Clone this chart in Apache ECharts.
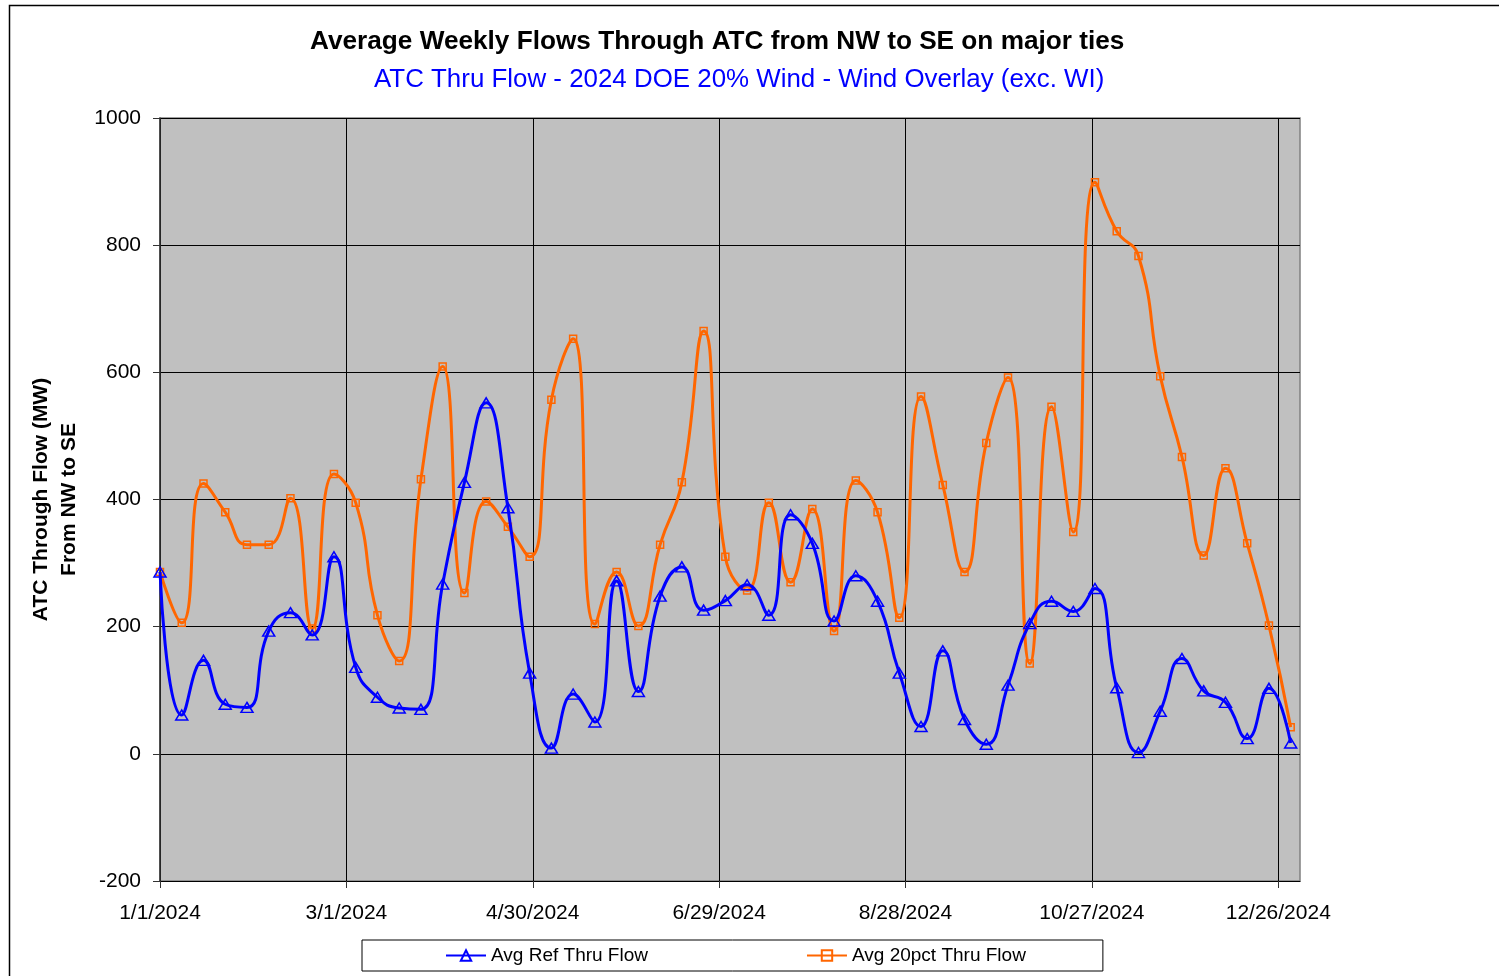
<!DOCTYPE html>
<html style="height: 100%; width: 100%; overflow: hidden">
<head>
    <meta charset="UTF-8">
    <title>Average Weekly Flows Through ATC</title>
    <script type="text/javascript" src="https://cdn.jsdelivr.net/npm/echarts@6/dist/echarts.min.js"></script>
</head>
<body style="height: 100%; width: 100%; margin: 0; background: #fff">
<div id="container" style="height: 976px; width: 1499px"></div>
<script type="text/javascript">

    // weekly points, starting 1/1/2024
    var startYear = 2024, startMonth = 0, startDay = 1;
    var weekStep = 7;

    var seriesNames = ['Avg Ref Thru Flow', 'Avg 20pct Thru Flow'];

    var refFlow = [286, 61, 147, 78, 73, 193, 222, 187, 310, 136,
        89, 72, 70, 267, 427, 552, 387, 127, 9, 94,
        50, 272, 98, 248, 294, 226, 241, 266, 218, 376,
        331, 209, 280, 240, 127, 43, 162, 54, 15, 108,
        205, 240, 224, 260, 104, 2, 67, 150, 99, 81,
        24, 103, 17];

    var pct20Flow = [286, 206, 425, 380, 329, 329, 402, 197, 440, 395,
        218, 146, 432, 609, 253, 397, 357, 310, 557, 653,
        204, 286, 201, 329, 427, 665, 310, 257, 395, 270,
        385, 193, 430, 380, 214, 562, 423, 286, 489, 592,
        142, 546, 349, 899, 822, 783, 594, 467, 312, 449,
        331, 202, 42];

    // tick labels every 60 days: 1/1/2024 ... 12/26/2024
    var xTicks = [0, 60, 120, 180, 240, 300, 360];

    function dayLabel(d) {
        var dt = new Date(startYear, startMonth, startDay + d);
        return (dt.getMonth() + 1) + '/' + dt.getDate() + '/' + dt.getFullYear();
    }

    function toPoints(vals) {
        return vals.map(function (v, i) {
            return [i * weekStep, v];
        });
    }

    var font = "'Liberation Sans', Arial, Helvetica, sans-serif";

    var dom = document.getElementById("container");
    var myChart = echarts.init(dom);

    var option = {
        backgroundColor: '#fff',
        animation: false,
        textStyle: {fontFamily: font},
        title: [{
            text: 'Average Weekly Flows Through ATC from NW to SE on major ties',
            left: 310,
            top: 29,
            padding: 0,
            textStyle: {fontSize: 26.2, fontWeight: 'bold', color: '#000', fontFamily: font}
        }, {
            text: 'ATC Thru Flow - 2024 DOE 20% Wind - Wind Overlay (exc. WI)',
            left: 374,
            top: 67,
            padding: 0,
            textStyle: {fontSize: 25.9, fontWeight: 'normal', color: '#0000ff', fontFamily: font}
        }],
        graphic: [{
            type: 'rect',
            left: 7,
            top: 3,
            z: -10,
            shape: {width: 1520, height: 1000},
            style: {fill: 'none', stroke: '#000', lineWidth: 1.5}
        }],
        legend: {
            data: seriesNames,
            left: 362,
            top: 940,
            padding: [6, 77, 6, 83],
            itemGap: 158,
            itemWidth: 40,
            itemHeight: 13,
            borderColor: '#000',
            borderWidth: 1,
            textStyle: {fontSize: 19, color: '#000', fontFamily: font}
        },
        grid: {
            left: 160,
            right: 199,
            top: 118,
            bottom: 95,
            show: true,
            backgroundColor: '#c0c0c0',
            borderColor: '#808080',
            borderWidth: 1.5
        },
        xAxis: {
            type: 'value',
            min: 0,
            max: 367,
            interval: 60,
            axisLine: {onZero: false, lineStyle: {color: '#000', width: 1}},
            axisTick: {show: true, length: 7, customValues: xTicks, lineStyle: {color: '#333'}},
            axisLabel: {
                customValues: xTicks,
                margin: 22,
                fontSize: 21,
                color: '#000',
                fontFamily: font,
                formatter: function (v) {
                    return v % 60 === 0 ? dayLabel(v) : '';
                }
            },
            splitLine: {show: true, lineStyle: {color: '#000', width: 1}}
        },
        yAxis: {
            type: 'value',
            min: -200,
            max: 1000,
            interval: 200,
            name: 'ATC Through Flow (MW)\nFrom NW to SE',
            nameLocation: 'middle',
            nameGap: 60,
            nameTextStyle: {fontSize: 21, fontWeight: 'bold', color: '#000', lineHeight: 28, fontFamily: font},
            axisLine: {show: true, lineStyle: {color: '#333', width: 1.5}},
            axisTick: {show: true, length: 7, lineStyle: {color: '#333'}},
            axisLabel: {
                margin: 19,
                fontSize: 21,
                color: '#000',
                fontFamily: font,
                formatter: function (v) {
                    return String(v);
                }
            },
            splitLine: {show: true, lineStyle: {color: '#000', width: 1}}
        },
        series: [{
            name: seriesNames[0],
            type: 'line',
            data: toPoints(refFlow),
            smooth: 0.5,
            symbol: 'triangle',
            symbolSize: [12, 10],
            itemStyle: {color: 'rgba(0,0,0,0)', borderColor: '#0000ff', borderWidth: 1.5},
            lineStyle: {color: '#0000ff', width: 3},
            z: 3
        }, {
            name: seriesNames[1],
            type: 'line',
            data: toPoints(pct20Flow),
            smooth: 0.5,
            symbol: 'rect',
            symbolSize: 7,
            itemStyle: {color: 'rgba(0,0,0,0)', borderColor: '#ff6600', borderWidth: 1.5},
            lineStyle: {color: '#ff6600', width: 3},
            z: 2
        }]
    };

    myChart.setOption(option);

</script>
</body>
</html>
